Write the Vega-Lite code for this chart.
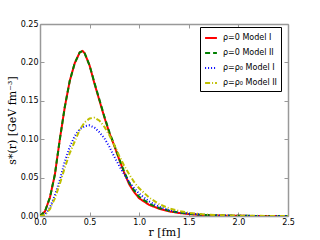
{
  "$schema": "https://vega.github.io/schema/vega-lite/v6.json",
  "width": 248,
  "height": 192,
  "autosize": {"type": "none"},
  "padding": {"left": 40, "top": 24, "right": 32, "bottom": 24},
  "background": "white",
  "datasets": {
    "curves": [
      {"series": "ρ=0  Model I", "r": 0.0, "s": 0.0},
      {"series": "ρ=0  Model I", "r": 0.05, "s": 0.006},
      {"series": "ρ=0  Model I", "r": 0.1, "s": 0.024},
      {"series": "ρ=0  Model I", "r": 0.15, "s": 0.054},
      {"series": "ρ=0  Model I", "r": 0.2, "s": 0.1},
      {"series": "ρ=0  Model I", "r": 0.25, "s": 0.142},
      {"series": "ρ=0  Model I", "r": 0.3, "s": 0.176},
      {"series": "ρ=0  Model I", "r": 0.35, "s": 0.199},
      {"series": "ρ=0  Model I", "r": 0.4, "s": 0.213},
      {"series": "ρ=0  Model I", "r": 0.43, "s": 0.215},
      {"series": "ρ=0  Model I", "r": 0.45, "s": 0.212},
      {"series": "ρ=0  Model I", "r": 0.5, "s": 0.196},
      {"series": "ρ=0  Model I", "r": 0.55, "s": 0.172},
      {"series": "ρ=0  Model I", "r": 0.6, "s": 0.15},
      {"series": "ρ=0  Model I", "r": 0.65, "s": 0.128},
      {"series": "ρ=0  Model I", "r": 0.7, "s": 0.108},
      {"series": "ρ=0  Model I", "r": 0.75, "s": 0.091},
      {"series": "ρ=0  Model I", "r": 0.8, "s": 0.073},
      {"series": "ρ=0  Model I", "r": 0.85, "s": 0.056},
      {"series": "ρ=0  Model I", "r": 0.9, "s": 0.041},
      {"series": "ρ=0  Model I", "r": 0.95, "s": 0.031},
      {"series": "ρ=0  Model I", "r": 1.0, "s": 0.023},
      {"series": "ρ=0  Model I", "r": 1.1, "s": 0.0145},
      {"series": "ρ=0  Model I", "r": 1.2, "s": 0.0095},
      {"series": "ρ=0  Model I", "r": 1.3, "s": 0.006},
      {"series": "ρ=0  Model I", "r": 1.4, "s": 0.004},
      {"series": "ρ=0  Model I", "r": 1.5, "s": 0.0025},
      {"series": "ρ=0  Model I", "r": 1.6, "s": 0.0016},
      {"series": "ρ=0  Model I", "r": 1.7, "s": 0.001},
      {"series": "ρ=0  Model I", "r": 1.8, "s": 0.0006},
      {"series": "ρ=0  Model I", "r": 2.0, "s": 0.0002},
      {"series": "ρ=0  Model I", "r": 2.2, "s": 0.0001},
      {"series": "ρ=0  Model I", "r": 2.5, "s": 0.0},

      {"series": "ρ=0  Model II", "r": 0.0, "s": 0.0},
      {"series": "ρ=0  Model II", "r": 0.05, "s": 0.006},
      {"series": "ρ=0  Model II", "r": 0.1, "s": 0.024},
      {"series": "ρ=0  Model II", "r": 0.15, "s": 0.054},
      {"series": "ρ=0  Model II", "r": 0.2, "s": 0.1},
      {"series": "ρ=0  Model II", "r": 0.25, "s": 0.142},
      {"series": "ρ=0  Model II", "r": 0.3, "s": 0.176},
      {"series": "ρ=0  Model II", "r": 0.35, "s": 0.199},
      {"series": "ρ=0  Model II", "r": 0.4, "s": 0.213},
      {"series": "ρ=0  Model II", "r": 0.43, "s": 0.215},
      {"series": "ρ=0  Model II", "r": 0.45, "s": 0.212},
      {"series": "ρ=0  Model II", "r": 0.5, "s": 0.196},
      {"series": "ρ=0  Model II", "r": 0.55, "s": 0.173},
      {"series": "ρ=0  Model II", "r": 0.6, "s": 0.151},
      {"series": "ρ=0  Model II", "r": 0.65, "s": 0.129},
      {"series": "ρ=0  Model II", "r": 0.7, "s": 0.109},
      {"series": "ρ=0  Model II", "r": 0.75, "s": 0.092},
      {"series": "ρ=0  Model II", "r": 0.8, "s": 0.074},
      {"series": "ρ=0  Model II", "r": 0.85, "s": 0.057},
      {"series": "ρ=0  Model II", "r": 0.9, "s": 0.043},
      {"series": "ρ=0  Model II", "r": 0.95, "s": 0.033},
      {"series": "ρ=0  Model II", "r": 1.0, "s": 0.025},
      {"series": "ρ=0  Model II", "r": 1.1, "s": 0.016},
      {"series": "ρ=0  Model II", "r": 1.2, "s": 0.0105},
      {"series": "ρ=0  Model II", "r": 1.3, "s": 0.0068},
      {"series": "ρ=0  Model II", "r": 1.4, "s": 0.0045},
      {"series": "ρ=0  Model II", "r": 1.5, "s": 0.0029},
      {"series": "ρ=0  Model II", "r": 1.6, "s": 0.0018},
      {"series": "ρ=0  Model II", "r": 1.7, "s": 0.0012},
      {"series": "ρ=0  Model II", "r": 1.8, "s": 0.0007},
      {"series": "ρ=0  Model II", "r": 2.0, "s": 0.0003},
      {"series": "ρ=0  Model II", "r": 2.2, "s": 0.0001},
      {"series": "ρ=0  Model II", "r": 2.5, "s": 0.0},

      {"series": "ρ=ρ₀ Model I", "r": 0.0, "s": 0.0},
      {"series": "ρ=ρ₀ Model I", "r": 0.05, "s": 0.002},
      {"series": "ρ=ρ₀ Model I", "r": 0.1, "s": 0.011},
      {"series": "ρ=ρ₀ Model I", "r": 0.15, "s": 0.027},
      {"series": "ρ=ρ₀ Model I", "r": 0.2, "s": 0.047},
      {"series": "ρ=ρ₀ Model I", "r": 0.25, "s": 0.071},
      {"series": "ρ=ρ₀ Model I", "r": 0.3, "s": 0.09},
      {"series": "ρ=ρ₀ Model I", "r": 0.35, "s": 0.104},
      {"series": "ρ=ρ₀ Model I", "r": 0.4, "s": 0.113},
      {"series": "ρ=ρ₀ Model I", "r": 0.45, "s": 0.117},
      {"series": "ρ=ρ₀ Model I", "r": 0.5, "s": 0.118},
      {"series": "ρ=ρ₀ Model I", "r": 0.55, "s": 0.115},
      {"series": "ρ=ρ₀ Model I", "r": 0.6, "s": 0.109},
      {"series": "ρ=ρ₀ Model I", "r": 0.65, "s": 0.101},
      {"series": "ρ=ρ₀ Model I", "r": 0.7, "s": 0.09},
      {"series": "ρ=ρ₀ Model I", "r": 0.75, "s": 0.077},
      {"series": "ρ=ρ₀ Model I", "r": 0.8, "s": 0.065},
      {"series": "ρ=ρ₀ Model I", "r": 0.85, "s": 0.054},
      {"series": "ρ=ρ₀ Model I", "r": 0.9, "s": 0.044},
      {"series": "ρ=ρ₀ Model I", "r": 0.95, "s": 0.036},
      {"series": "ρ=ρ₀ Model I", "r": 1.0, "s": 0.029},
      {"series": "ρ=ρ₀ Model I", "r": 1.1, "s": 0.019},
      {"series": "ρ=ρ₀ Model I", "r": 1.2, "s": 0.012},
      {"series": "ρ=ρ₀ Model I", "r": 1.3, "s": 0.0077},
      {"series": "ρ=ρ₀ Model I", "r": 1.4, "s": 0.005},
      {"series": "ρ=ρ₀ Model I", "r": 1.5, "s": 0.0032},
      {"series": "ρ=ρ₀ Model I", "r": 1.6, "s": 0.002},
      {"series": "ρ=ρ₀ Model I", "r": 1.7, "s": 0.0013},
      {"series": "ρ=ρ₀ Model I", "r": 1.8, "s": 0.0008},
      {"series": "ρ=ρ₀ Model I", "r": 2.0, "s": 0.0003},
      {"series": "ρ=ρ₀ Model I", "r": 2.2, "s": 0.0001},
      {"series": "ρ=ρ₀ Model I", "r": 2.5, "s": 0.0},

      {"series": "ρ=ρ₀ Model II", "r": 0.0, "s": 0.0},
      {"series": "ρ=ρ₀ Model II", "r": 0.05, "s": 0.0015},
      {"series": "ρ=ρ₀ Model II", "r": 0.1, "s": 0.009},
      {"series": "ρ=ρ₀ Model II", "r": 0.15, "s": 0.023},
      {"series": "ρ=ρ₀ Model II", "r": 0.2, "s": 0.042},
      {"series": "ρ=ρ₀ Model II", "r": 0.25, "s": 0.063},
      {"series": "ρ=ρ₀ Model II", "r": 0.3, "s": 0.082},
      {"series": "ρ=ρ₀ Model II", "r": 0.35, "s": 0.097},
      {"series": "ρ=ρ₀ Model II", "r": 0.4, "s": 0.112},
      {"series": "ρ=ρ₀ Model II", "r": 0.45, "s": 0.122},
      {"series": "ρ=ρ₀ Model II", "r": 0.5, "s": 0.127},
      {"series": "ρ=ρ₀ Model II", "r": 0.55, "s": 0.128},
      {"series": "ρ=ρ₀ Model II", "r": 0.6, "s": 0.124},
      {"series": "ρ=ρ₀ Model II", "r": 0.65, "s": 0.116},
      {"series": "ρ=ρ₀ Model II", "r": 0.7, "s": 0.105},
      {"series": "ρ=ρ₀ Model II", "r": 0.75, "s": 0.092},
      {"series": "ρ=ρ₀ Model II", "r": 0.8, "s": 0.078},
      {"series": "ρ=ρ₀ Model II", "r": 0.85, "s": 0.065},
      {"series": "ρ=ρ₀ Model II", "r": 0.9, "s": 0.054},
      {"series": "ρ=ρ₀ Model II", "r": 0.95, "s": 0.044},
      {"series": "ρ=ρ₀ Model II", "r": 1.0, "s": 0.036},
      {"series": "ρ=ρ₀ Model II", "r": 1.1, "s": 0.024},
      {"series": "ρ=ρ₀ Model II", "r": 1.2, "s": 0.0155},
      {"series": "ρ=ρ₀ Model II", "r": 1.3, "s": 0.01},
      {"series": "ρ=ρ₀ Model II", "r": 1.4, "s": 0.0065},
      {"series": "ρ=ρ₀ Model II", "r": 1.5, "s": 0.0042},
      {"series": "ρ=ρ₀ Model II", "r": 1.6, "s": 0.0027},
      {"series": "ρ=ρ₀ Model II", "r": 1.7, "s": 0.0017},
      {"series": "ρ=ρ₀ Model II", "r": 1.8, "s": 0.0011},
      {"series": "ρ=ρ₀ Model II", "r": 2.0, "s": 0.0004},
      {"series": "ρ=ρ₀ Model II", "r": 2.2, "s": 0.0002},
      {"series": "ρ=ρ₀ Model II", "r": 2.5, "s": 0.0}
    ]
  },
  "data": {"name": "curves"},
  "config": {
    "view": {"stroke": null},
    "axis": {
      "domainColor": "#999999",
      "domainWidth": 1.5,
      "tickColor": "#999999",
      "tickWidth": 1,
      "tickSize": -4,
      "grid": false,
      "labelFont": "DejaVu Sans",
      "labelFontSize": 8,
      "labelColor": "#000000",
      "titleFont": "DejaVu Serif",
      "titleFontSize": 11,
      "titleFontWeight": "normal",
      "titleColor": "#000000"
    }
  },
  "layer": [
    {
      "mark": {"type": "line", "clip": true},
      "encoding": {
        "x": {
          "field": "r", "type": "quantitative",
          "scale": {"domain": [0, 2.5], "nice": false, "zero": false},
          "axis": {"orient": "bottom", "values": [0, 0.5, 1.0, 1.5, 2.0, 2.5], "format": ".1f", "labelPadding": 6, "title": "r [fm]", "titlePadding": 0, "labelFlush": false, "labelOverlap": false}
        },
        "y": {
          "field": "s", "type": "quantitative",
          "scale": {"domain": [0, 0.25], "nice": false},
          "axis": {"orient": "left", "values": [0, 0.05, 0.1, 0.15, 0.2, 0.25], "format": ".2f", "labelPadding": 6, "title": "s*(r) [GeV fm⁻³]", "titlePadding": 3, "labelFlush": false, "labelOverlap": false}
        },
        "color": {
          "field": "series", "type": "nominal",
          "scale": {"domain": ["ρ=0  Model I", "ρ=0  Model II", "ρ=ρ₀ Model I", "ρ=ρ₀ Model II"], "range": ["#ff0000", "#008000", "#0000ff", "#bfbf00"]},
          "legend": {
            "title": null,
            "orient": "none",
            "legendX": 160,
            "legendY": 3,
            "symbolType": "stroke",
            "symbolSize": 140,
            "labelFont": "DejaVu Sans",
            "labelFontSize": 8,
            "labelColor": "#000000",
            "strokeColor": "#000000",
            "fillColor": "white",
            "padding": 4,
            "rowPadding": 4,
            "labelOffset": 5
          }
        },
        "strokeDash": {
          "field": "series", "type": "nominal",
          "scale": {"domain": ["ρ=0  Model I", "ρ=0  Model II", "ρ=ρ₀ Model I", "ρ=ρ₀ Model II"], "range": [[1, 0], [5, 3], [1, 2], [5, 2, 1, 2]]},
          "legend": null
        },
        "strokeWidth": {
          "field": "series", "type": "nominal",
          "scale": {"domain": ["ρ=0  Model I", "ρ=0  Model II", "ρ=ρ₀ Model I", "ρ=ρ₀ Model II"], "range": [2, 2, 1.2, 1.2]},
          "legend": null
        },
        "order": {"field": "r", "type": "quantitative"}
      }
    },
    {
      "mark": {"type": "line", "opacity": 0},
      "encoding": {
        "x": {
          "field": "r", "type": "quantitative",
          "axis": {"orient": "top", "values": [0, 0.5, 1.0, 1.5, 2.0, 2.5], "labels": false, "title": null}
        },
        "y": {
          "field": "s", "type": "quantitative",
          "axis": {"orient": "right", "values": [0, 0.05, 0.1, 0.15, 0.2, 0.25], "labels": false, "title": null}
        },
        "detail": {"field": "series"}
      }
    }
  ],
  "resolve": {"axis": {"x": "independent", "y": "independent"}}
}
